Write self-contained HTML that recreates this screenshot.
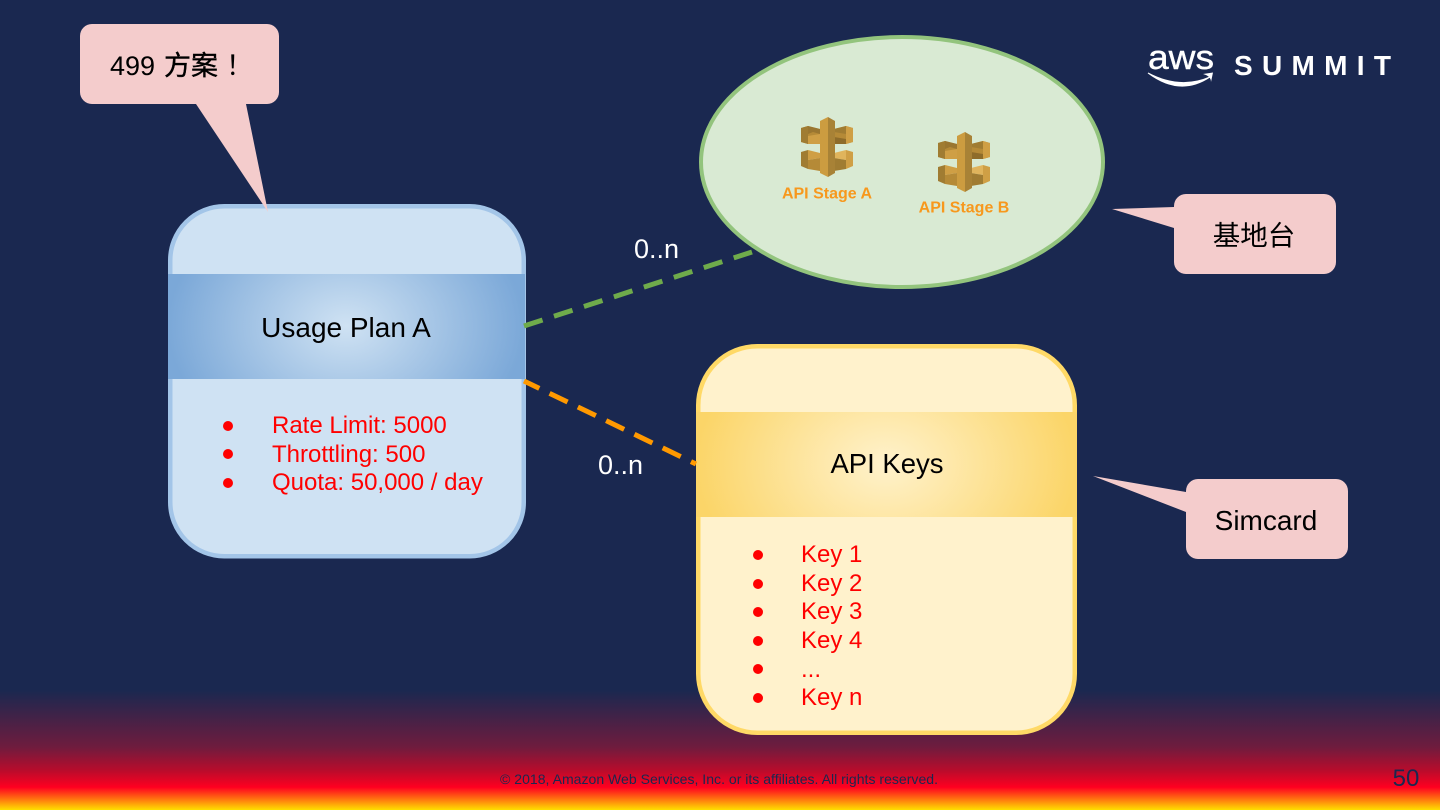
<!DOCTYPE html>
<html><head><meta charset="utf-8"><style>
html,body{margin:0;padding:0;width:1440px;height:810px;overflow:hidden;background:#1a2850}
svg{display:block}
text{font-family:"Liberation Sans","Noto Sans CJK SC",sans-serif}
</style></head><body>
<svg width="1440" height="810" viewBox="0 0 1440 810" xmlns="http://www.w3.org/2000/svg">
<defs>
<linearGradient id="bg" gradientUnits="userSpaceOnUse" x1="0" y1="0" x2="0" y2="810">
<stop offset="0" stop-color="#1a2850"/><stop offset=".852" stop-color="#1a2850"/>
<stop offset=".922" stop-color="#6e1c3e"/><stop offset=".951" stop-color="#b80c2c"/>
<stop offset=".972" stop-color="#ff0020"/><stop offset="1" stop-color="#ffe000"/>
</linearGradient>
<radialGradient id="bb" gradientUnits="userSpaceOnUse" cx="346" cy="326" r="178" gradientTransform="translate(346 326) scale(1 .75) translate(-346 -326)">
<stop offset="0" stop-color="#cfe2f3"/><stop offset="1" stop-color="#7ba8d8"/></radialGradient>
<radialGradient id="yb" gradientUnits="userSpaceOnUse" cx="886" cy="464" r="190" gradientTransform="translate(886 464) scale(1 .75) translate(-886 -464)">
<stop offset="0" stop-color="#fff2cc"/><stop offset="1" stop-color="#fbd568"/></radialGradient>
<g id="api">
<!-- upper left -->
<polygon points="0,11 7,9 19,12 19,27 7,27 0,25" fill="#b58a37"/>
<polygon points="7,9 19,12 19,17 12,15 7,17" fill="#9a7630"/>
<polygon points="0,11 7,9 7,27 0,25" fill="#a07c32"/>
<polygon points="7,19 19,17 19,27 7,27" fill="#cf9f45"/>
<!-- upper right -->
<polygon points="33,12 45,9 52,11 52,25 45,27 33,27" fill="#b58a37"/>
<polygon points="45,9 52,11 52,25 45,27" fill="#cf9f45"/>
<polygon points="33,12 45,9 45,17 33,15" fill="#a07c32"/>
<polygon points="33,20 45,22 45,27 33,27" fill="#8e6c2a"/>
<!-- lower left -->
<polygon points="0,35 7,33 7,52 0,49" fill="#a07c32"/>
<polygon points="7,33 19,36 19,41 7,43" fill="#cf9f45"/>
<polygon points="7,43 19,41 19,54 7,52" fill="#b58a37"/>
<!-- lower right -->
<polygon points="45,33 52,35 52,49 45,52" fill="#cf9f45"/>
<polygon points="33,36 45,33 45,43 33,41" fill="#e0b45c"/>
<polygon points="33,41 45,43 45,52 33,54" fill="#a07c32"/>
<!-- pillar -->
<polygon points="19,4 27,0 27,60 19,56" fill="#cc9c40"/>
<polygon points="27,0 34,4 34,56 27,60" fill="#a88236"/>
</g>
</defs>
<rect width="1440" height="810" fill="url(#bg)"/>

<!-- Ellipse -->
<ellipse cx="902" cy="162" rx="201" ry="125" fill="#d9ead3" stroke="#93c47d" stroke-width="4"/>
<use href="#api" x="801" y="117"/>
<use href="#api" x="938" y="132"/>
<text x="827" y="198.500" font-size="16" font-weight="bold" fill="#f7981d" text-anchor="middle">API Stage A</text>
<text x="964" y="212.500" font-size="16" font-weight="bold" fill="#f7981d" text-anchor="middle">API Stage B</text>

<!-- Blue box -->
<rect x="170.250" y="206.250" width="353.500" height="350" rx="54" fill="#cfe2f3" stroke="#a3c5e8" stroke-width="4.500"/>
<rect x="168" y="274" width="357" height="105" fill="url(#bb)"/>
<text x="346" y="337" font-size="28" fill="#000" text-anchor="middle">Usage Plan A</text>
<g font-size="24" fill="#f00">
<circle cx="228" cy="426" r="5"/><text x="272" y="433">Rate Limit: 5000</text>
<circle cx="228" cy="454" r="5"/><text x="272" y="462">Throttling: 500</text>
<circle cx="228" cy="483" r="5"/><text x="272" y="490">Quota: 50,000 / day</text>
</g>

<!-- Yellow box -->
<rect x="698.250" y="346.250" width="376.500" height="386.500" rx="59" fill="#fff2cc" stroke="#ffd966" stroke-width="4.500"/>
<rect x="696" y="412" width="381" height="105" fill="url(#yb)"/>
<text x="887" y="473" font-size="27.500" fill="#000" text-anchor="middle">API Keys</text>
<g font-size="24" fill="#f00">
<circle cx="758" cy="555" r="5"/><text x="801" y="562">Key 1</text>
<circle cx="758" cy="584" r="5"/><text x="801" y="591">Key 2</text>
<circle cx="758" cy="612" r="5"/><text x="801" y="619">Key 3</text>
<circle cx="758" cy="641" r="5"/><text x="801" y="648">Key 4</text>
<circle cx="758" cy="669" r="5"/><text x="801" y="677">...</text>
<circle cx="758" cy="698" r="5"/><text x="801" y="705">Key n</text>
</g>

<!-- Connectors -->
<line x1="524" y1="326" x2="752" y2="252" stroke="#6fab4b" stroke-width="5" stroke-dasharray="19.500 12"/>
<line x1="524" y1="381" x2="696" y2="464" stroke="#ff9900" stroke-width="5" stroke-dasharray="20 11.400" stroke-dashoffset="3"/>
<text x="634" y="258" font-size="27" fill="#fff">0..n</text>
<text x="598" y="474" font-size="27" fill="#fff">0..n</text>

<!-- Callouts -->
<path d="M92,24H267a12,12 0 0 1 12,12V92a12,12 0 0 1 -12,12H246L268,212L196,104H92a12,12 0 0 1 -12,-12V36a12,12 0 0 1 12,-12Z" fill="#f4cccc"/>
<text x="110" y="75" font-size="27" fill="#000">499</text>
<text x="164" y="75" font-size="27" fill="#000" stroke="#000" stroke-width=".4">方案</text>
<text x="226" y="75" font-size="27" fill="#000">！</text>
<path d="M1186,194H1324a12,12 0 0 1 12,12V262a12,12 0 0 1 -12,12H1186a12,12 0 0 1 -12,-12V228L1112,209L1174,207V206a12,12 0 0 1 12,-12Z" fill="#f4cccc"/>
<text x="1254" y="245" font-size="27.500" fill="#000" text-anchor="middle">基地台</text>
<path d="M1198,479H1336a12,12 0 0 1 12,12V547a12,12 0 0 1 -12,12H1198a12,12 0 0 1 -12,-12V512L1093,476L1186,492V491a12,12 0 0 1 12,-12Z" fill="#f4cccc"/>
<text x="1266" y="530" font-size="28" fill="#000" text-anchor="middle">Simcard</text>

<!-- Logo -->
<text x="1148" y="69" font-size="34" fill="#fff" stroke="#fff" stroke-width=".4" textLength="66" lengthAdjust="spacingAndGlyphs">aws</text>
<path d="M1148,73Q1180,97 1210,77Q1180,90 1148,73Z" fill="#fff" stroke="#fff" stroke-width="1"/>
<path d="M1203,74L1213,72.500L1211,82Q1211,76 1203,74Z" fill="#fff"/>
<text x="1234" y="75" font-size="28" font-weight="bold" fill="#fff" textLength="157">SUMMIT</text>

<!-- Footer -->
<text x="719" y="784" font-size="14" fill="#1a2850" text-anchor="middle" textLength="438" lengthAdjust="spacingAndGlyphs">© 2018, Amazon Web Services, Inc. or its affiliates. All rights reserved.</text>
<text x="1406" y="786" font-size="24" fill="#1a2850" text-anchor="middle">50</text>
</svg>
</body></html>
